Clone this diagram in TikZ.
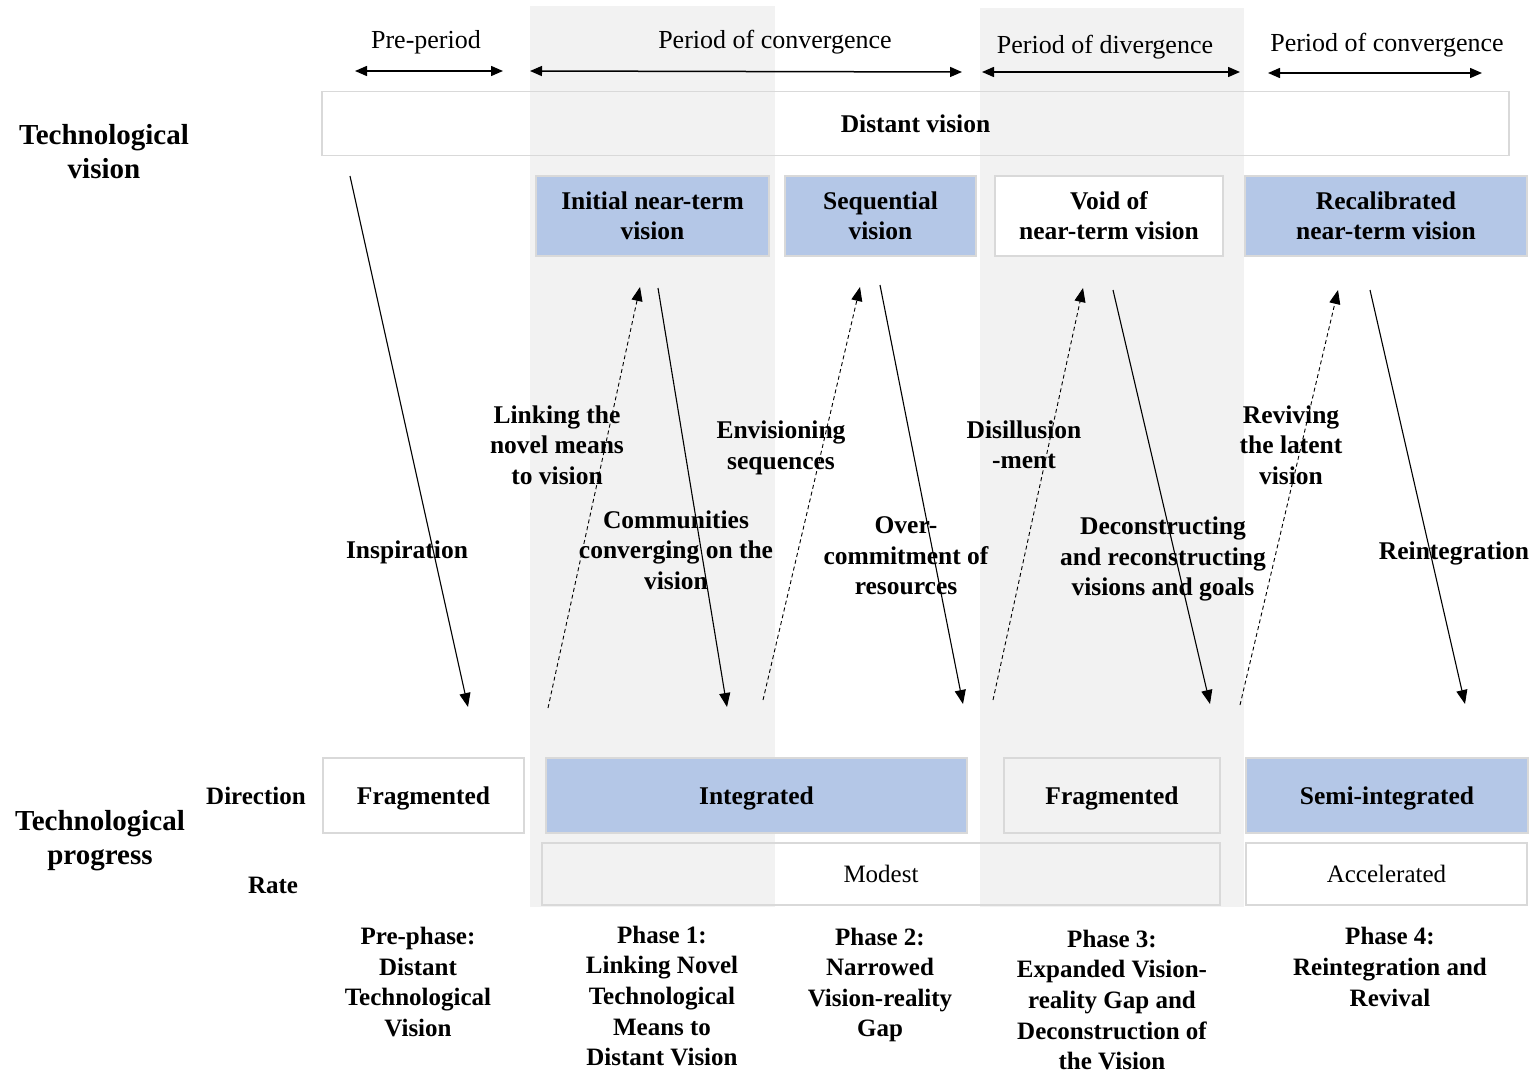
\documentclass[tikz,border=0pt]{standalone}
\usepackage{fontspec}
\setmainfont{Liberation Serif}
\usetikzlibrary{arrows.meta}
\definecolor{bandgray}{HTML}{F2F2F2}
\definecolor{boxline}{HTML}{D9D9D9}
\definecolor{boxblue}{HTML}{B4C7E7}
\tikzset{
  box/.style={draw=boxline, line width=1.6pt, inner sep=0pt, align=center, text depth=0pt,
    font=\fontsize{25.5}{30}\selectfont\bfseries},
  bluebox/.style={box, fill=boxblue},
  whitebox/.style={box, fill=white},
  plainbox/.style={box},
  period/.style={font=\fontsize{26}{30}\selectfont, inner sep=0pt},
  stage/.style={font=\fontsize{25.5}{30.5}\selectfont\bfseries, align=center, inner sep=0pt},
  rowhead/.style={font=\fontsize{29}{34}\selectfont\bfseries, align=center, inner sep=0pt},
  subhead/.style={font=\fontsize{25}{30}\selectfont\bfseries, inner sep=0pt},
  phase/.style={font=\fontsize{25}{30.6}\selectfont\bfseries, align=center, inner sep=0pt},
  span/.style={line width=1.5pt, {Triangle[length=12pt,width=10pt]}-{Triangle[length=12pt,width=10pt]}},
  down/.style={line width=1.1pt, -{Triangle[length=14pt,width=11pt]}},
  up/.style={line width=0.9pt, dash pattern=on 4pt off 3pt, -{Triangle[length=14pt,width=11pt]}}
}
\begin{document}
\begin{tikzpicture}[x=1pt,y=-1pt]
\useasboundingbox (0,0) rectangle (1534,1073);

% shaded periods
\fill[bandgray] (530,6) rectangle (775,907);
\fill[bandgray] (980,8) rectangle (1244,907);

% period spans
\coordinate (pa1) at (355,71);  \coordinate (pa2) at (503,71);
\coordinate (ca1) at (530,71);  \coordinate (ca2) at (962,72);
\coordinate (da1) at (982,72);  \coordinate (da2) at (1240,72);
\coordinate (cb1) at (1268,73); \coordinate (cb2) at (1482,73);
\draw[span] (pa1) -- (pa2);
\draw[span] (ca1) -- (ca2);
\draw[span] (da1) -- (da2);
\draw[span] (cb1) -- (cb2);
\node[period] (tpre) at (426,42) {Pre-period};
\node[period] (tcon1) at (775,42) {Period of convergence};
\node[period] (tdiv) at (1105,47) {Period of divergence};
\node[period] (tcon2) at (1387,45) {Period of convergence};

% technological vision row
\node[rowhead] (hvision) at (104,152) {Technological\\vision};
\node[plainbox, minimum width=1187pt, minimum height=64pt] (distant) at (915.5,123.5) {Distant vision};
\node[bluebox, minimum width=233pt, minimum height=80pt] (initial) at (652.5,216) {Initial near-term\\vision};
\node[bluebox, minimum width=191pt, minimum height=80pt] (sequential) at (880.5,216) {Sequential\\vision};
\node[whitebox, minimum width=228pt, minimum height=80pt] (void) at (1109,216) {Void of\\near-term vision};
\node[bluebox, minimum width=282pt, minimum height=80pt] (recal) at (1386,216) {Recalibrated\\near-term vision};

% technological progress rows
\node[rowhead] (hprogress) at (100,841) {Technological\\progress};
\node[subhead] (hdirection) at (256,796) {Direction};
\node[subhead] (hrate) at (273,885) {Rate};
\node[whitebox, minimum width=201pt, minimum height=75pt] (frag1) at (423.5,795.5) {Fragmented};
\node[bluebox, minimum width=421pt, minimum height=75pt] (integ) at (756.5,795.5) {Integrated};
\node[plainbox, minimum width=216pt, minimum height=75pt] (frag2) at (1112,795.5) {Fragmented};
\node[bluebox, minimum width=282pt, minimum height=75pt] (semi) at (1387,795.5) {Semi-integrated};
\node[plainbox, minimum width=678pt, minimum height=62pt, font=\fontsize{25}{30}\selectfont] (modest) at (881,874) {Modest};
\node[whitebox, minimum width=281pt, minimum height=62pt, font=\fontsize{25}{30}\selectfont] (accel) at (1386.5,874) {Accelerated};

% transitions between vision and progress
\coordinate (s0) at (350,176);  \coordinate (e0) at (468,707);
\coordinate (s1) at (658,288);  \coordinate (e1) at (727,707);
\coordinate (s2) at (880,285);  \coordinate (e2) at (963,704);
\coordinate (s3) at (1113,290); \coordinate (e3) at (1210,704);
\coordinate (s4) at (1370,290); \coordinate (e4) at (1465,704);
\draw[down] (s0) -- (e0);
\draw[down] (s1) -- (e1);
\draw[down] (s2) -- (e2);
\draw[down] (s3) -- (e3);
\draw[down] (s4) -- (e4);

\coordinate (u1) at (548,708);  \coordinate (v1) at (640,287);
\coordinate (u2) at (763,700);  \coordinate (v2) at (860,287);
\coordinate (u3) at (993,700);  \coordinate (v3) at (1083,288);
\coordinate (u4) at (1240,705); \coordinate (v4) at (1338,290);
\draw[up] (u1) -- (v1);
\draw[up] (u2) -- (v2);
\draw[up] (u3) -- (v3);
\draw[up] (u4) -- (v4);

% mechanism labels
\node[stage] (linspire) at (407,552) {Inspiration};
\node[stage] (llink) at (557,445) {Linking the\\novel means\\to vision};
\node[stage] (lcomm) at (676,550) {Communities\\converging on the\\vision};
\node[stage] (lenv) at (781,448) {Envisioning\\sequences};
\node[stage] (lover) at (906,556) {Over-\\commitment of\\resources};
\node[stage] (ldis) at (1024,445) {Disillusion\\-ment};
\node[stage] (ldecon) at (1163,559) {Deconstructing\\and reconstructing\\visions and goals};
\node[stage] (lrev) at (1291,445) {Reviving\\the latent\\vision};
\node[stage] (lreint) at (1454,553) {Reintegration};

% phase captions
\node[phase] (p0) at (418,982) {Pre-phase:\\Distant\\Technological\\Vision};
\node[phase] (p1) at (662,996) {Phase 1:\\Linking Novel\\Technological\\Means to\\Distant Vision};
\node[phase] (p2) at (880,985) {Phase 2:\\Narrowed\\Vision-reality\\Gap};
\node[phase] (p3) at (1112,1000) {Phase 3:\\Expanded Vision-\\reality Gap and\\Deconstruction of\\the Vision};
\node[phase] (p4) at (1390,967) {Phase 4:\\Reintegration and\\Revival};
\end{tikzpicture}
\end{document}
